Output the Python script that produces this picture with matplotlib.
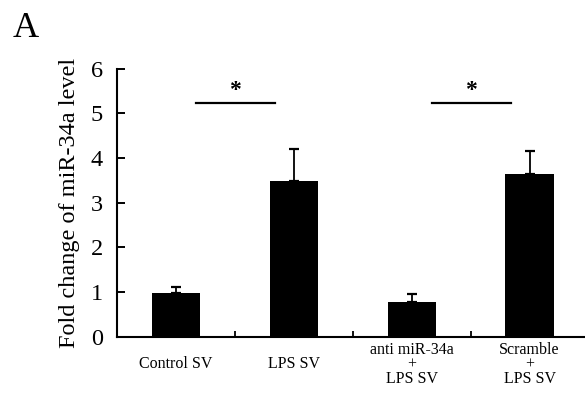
import numpy as np
import matplotlib
matplotlib.use("Agg")
import matplotlib.pyplot as plt

plt.rcParams['font.family'] = ['Liberation Serif', 'DejaVu Serif']

categories = ['Control SV', 'LPS SV', 'anti miR-34a\n+\nLPS SV', 'Scramble\n+\nLPS SV']
means = [0.98, 3.48, 0.77, 3.65]
errors = [0.14, 0.73, 0.18, 0.51]
sig_pairs = [(0, 1), (2, 3)]
y_ticks = [0, 1, 2, 3, 4, 5, 6]

x = np.arange(len(categories))

fig = plt.figure(figsize=(5.85, 3.94), dpi=100)
ax = fig.add_axes([0.2, 0.1454, 0.8, 0.6806])

ax.bar(x, means, width=0.41, color='black', zorder=2)
ax.errorbar(x, means, yerr=[np.zeros(len(means)), errors], fmt='none',
            ecolor='black', elinewidth=1.3, capsize=3.5, capthick=1.6, zorder=1)

# significance bars
for a, b in sig_pairs:
    ax.plot([a + 0.17, b - 0.16], [5.24, 5.24], color='black', lw=1.6, clip_on=False)
    ax.text((a + b) / 2, 5.5, '*', ha='center', va='center', fontsize=17, fontweight='bold')

ax.set_xlim(-0.5, 3.47)
ax.set_ylim(0, 6)
ax.set_yticks(y_ticks)
ax.tick_params(axis='y', direction='in', length=6, width=1.4, labelsize=17.5, pad=10)

ax.set_xticks(x)
ax.set_xticklabels(categories, fontsize=11.5, linespacing=0.85)
ax.set_xticks(x[:-1] + 0.5, minor=True)
ax.tick_params(axis='x', which='major', length=0, pad=20)
ax.tick_params(axis='x', which='minor', direction='in', length=4, width=1.3)
for lbl in ax.get_xticklabels():
    lbl.set_va('center')

for s in ['top', 'right']:
    ax.spines[s].set_visible(False)
for s in ['left', 'bottom']:
    ax.spines[s].set_linewidth(1.5)

ax.set_ylabel('Fold change of miR-34a level', fontsize=17.5, labelpad=8)
fig.text(0.022, 0.905, 'A', fontsize=26)

fig.savefig('out.png', dpi=100)
